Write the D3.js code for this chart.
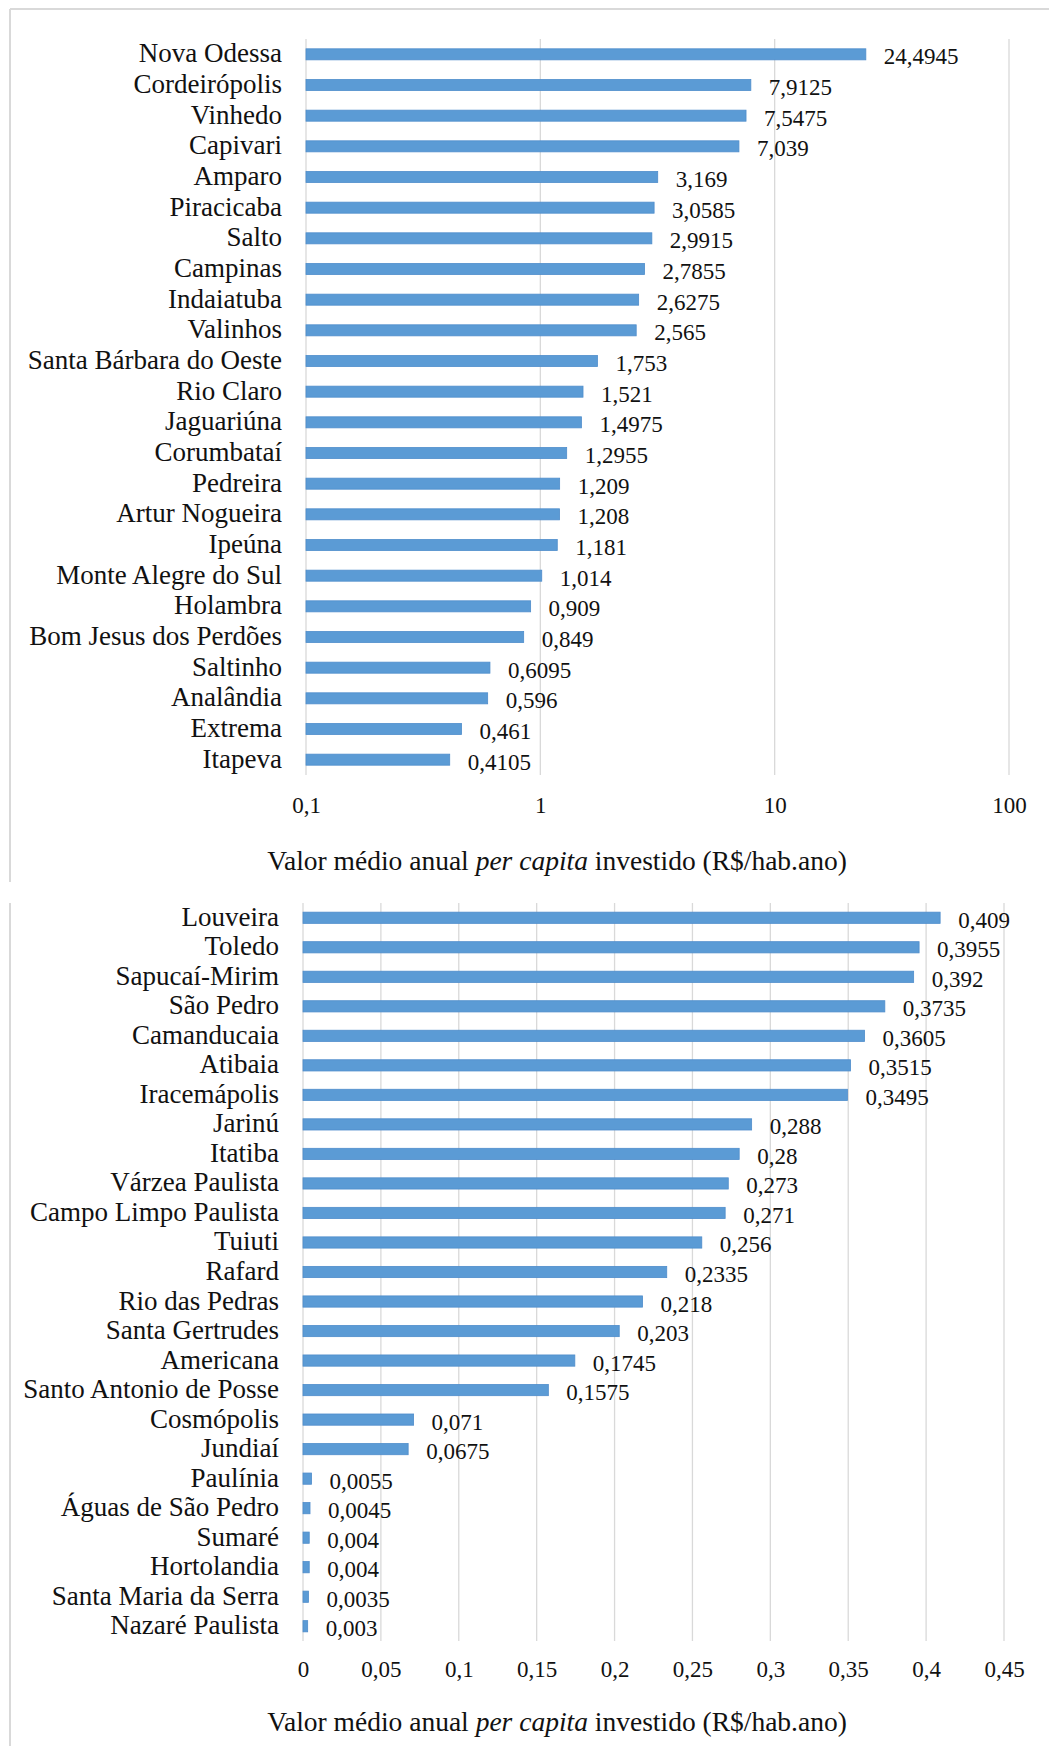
<!DOCTYPE html>
<html>
<head>
<meta charset="utf-8">
<script src="https://cdn.jsdelivr.net/npm/d3@7"></script>
<style>
  html, body { margin: 0; padding: 0; background: #fff; }
  svg { display: block; }
  text { font-family: "Liberation Serif", "Times New Roman", serif; fill: #111; }
</style>
</head>
<body>
<svg id="chart" width="1049" height="1746"></svg>
<script>
// Municipalities with the higher averages (log scale panel)
const topCities = [
  "Nova Odessa", "Cordeirópolis", "Vinhedo", "Capivari", "Amparo", "Piracicaba",
  "Salto", "Campinas", "Indaiatuba", "Valinhos", "Santa Bárbara do Oeste", "Rio Claro",
  "Jaguariúna", "Corumbataí", "Pedreira", "Artur Nogueira", "Ipeúna",
  "Monte Alegre do Sul", "Holambra", "Bom Jesus dos Perdões", "Saltinho",
  "Analândia", "Extrema", "Itapeva"
];
const topValues = [
  24.4945, 7.9125, 7.5475, 7.039, 3.169, 3.0585,
  2.9915, 2.7855, 2.6275, 2.565, 1.753, 1.521,
  1.4975, 1.2955, 1.209, 1.208, 1.181,
  1.014, 0.909, 0.849, 0.6095,
  0.596, 0.461, 0.4105
];
const topTicks = [0.1, 1, 10, 100];
const topTickLabels = ["0,1", "1", "10", "100"];

// Municipalities with the lower averages (linear scale panel)
const bottomCities = [
  "Louveira", "Toledo", "Sapucaí-Mirim", "São Pedro", "Camanducaia", "Atibaia",
  "Iracemápolis", "Jarinú", "Itatiba", "Várzea Paulista", "Campo Limpo Paulista",
  "Tuiuti", "Rafard", "Rio das Pedras", "Santa Gertrudes", "Americana",
  "Santo Antonio de Posse", "Cosmópolis", "Jundiaí", "Paulínia",
  "Águas de São Pedro", "Sumaré", "Hortolandia", "Santa Maria da Serra", "Nazaré Paulista"
];
const bottomValues = [
  0.409, 0.3955, 0.392, 0.3735, 0.3605, 0.3515,
  0.3495, 0.288, 0.28, 0.273, 0.271,
  0.256, 0.2335, 0.218, 0.203, 0.1745,
  0.1575, 0.071, 0.0675, 0.0055,
  0.0045, 0.004, 0.004, 0.0035, 0.003
];
const bottomTicks = [0, 0.05, 0.1, 0.15, 0.2, 0.25, 0.3, 0.35, 0.4, 0.45];
const bottomTickLabels = ["0", "0,05", "0,1", "0,15", "0,2", "0,25", "0,3", "0,35", "0,4", "0,45"];

const svg = d3.select("#chart");
const frameColor = "#d9d9d9";
const gridColor = "#d9d9d9";
const barFill = "#5b9bd5";
const barStroke = "#4f8dcb";

const fmt = v => String(v).replace(".", ",");

// Panel frames
svg.append("line").attr("x1", 10).attr("x2", 1049).attr("y1", 9).attr("y2", 9)
  .attr("stroke", frameColor).attr("stroke-width", 2);
svg.append("line").attr("x1", 10).attr("x2", 10).attr("y1", 9).attr("y2", 882)
  .attr("stroke", frameColor).attr("stroke-width", 2);
svg.append("line").attr("x1", 10).attr("x2", 10).attr("y1", 903).attr("y2", 1746)
  .attr("stroke", frameColor).attr("stroke-width", 2);

function drawPanel(opts) {
  const { cities, values, ticks, tickLabels, x, yRange, padding, tickY, titleY } = opts;
  const g = svg.append("g");

  const y = d3.scaleBand()
    .domain(cities)
    .range(yRange)
    .paddingInner(padding)
    .paddingOuter(padding / 2);

  // vertical gridlines
  g.append("g").selectAll("line")
    .data(ticks)
    .join("line")
    .attr("x1", d => x(d)).attr("x2", d => x(d))
    .attr("y1", yRange[0]).attr("y2", yRange[1])
    .attr("stroke", gridColor).attr("stroke-width", 1.3);

  // bars
  g.append("g").selectAll("rect")
    .data(values)
    .join("rect")
    .attr("x", x(ticks[0]))
    .attr("y", (d, i) => y(cities[i]))
    .attr("width", d => x(d) - x(ticks[0]))
    .attr("height", y.bandwidth())
    .attr("fill", barFill)
    .attr("stroke", barStroke)
    .attr("stroke-width", 0.8);

  // value labels
  g.append("g").selectAll("text")
    .data(values)
    .join("text")
    .attr("x", d => x(d) + 18)
    .attr("y", (d, i) => y(cities[i]) + y.bandwidth() / 2 + 10)
    .attr("font-size", 23)
    .text(d => fmt(d));

  // category labels
  g.append("g").selectAll("text")
    .data(cities)
    .join("text")
    .attr("x", x(ticks[0]) - 24)
    .attr("y", d => y(d) + y.bandwidth() / 2 + 8)
    .attr("text-anchor", "end")
    .attr("font-size", 27)
    .text(d => d);

  // value axis tick labels
  const axis = d3.axisBottom(x)
    .tickValues(ticks)
    .tickFormat((d, i) => tickLabels[i])
    .tickSize(0)
    .tickPadding(0);
  const ax = g.append("g").attr("transform", `translate(0,${tickY})`).call(axis);
  ax.select(".domain").remove();
  ax.selectAll("text")
    .attr("font-family", "Liberation Serif, serif")
    .attr("font-size", 23)
    .attr("fill", "#111")
    .attr("dy", 0)
    .attr("y", 0);

  // axis title
  const title = g.append("text")
    .attr("x", 557)
    .attr("y", titleY)
    .attr("text-anchor", "middle")
    .attr("font-size", 27.5);
  title.append("tspan").text("Valor médio anual ");
  title.append("tspan").attr("font-style", "italic").text("per capita");
  title.append("tspan").text(" investido (R$/hab.ano)");
}

drawPanel({
  cities: topCities,
  values: topValues,
  ticks: topTicks,
  tickLabels: topTickLabels,
  x: d3.scaleLog().domain([0.1, 100]).range([306, 1009]),
  yRange: [39, 775],
  padding: 0.64,
  tickY: 813,
  titleY: 870
});

drawPanel({
  cities: bottomCities,
  values: bottomValues,
  ticks: bottomTicks,
  tickLabels: bottomTickLabels,
  x: d3.scaleLinear().domain([0, 0.45]).range([303, 1004]),
  yRange: [903, 1641],
  padding: 0.62,
  tickY: 1677,
  titleY: 1731
});
</script>
</body>
</html>
